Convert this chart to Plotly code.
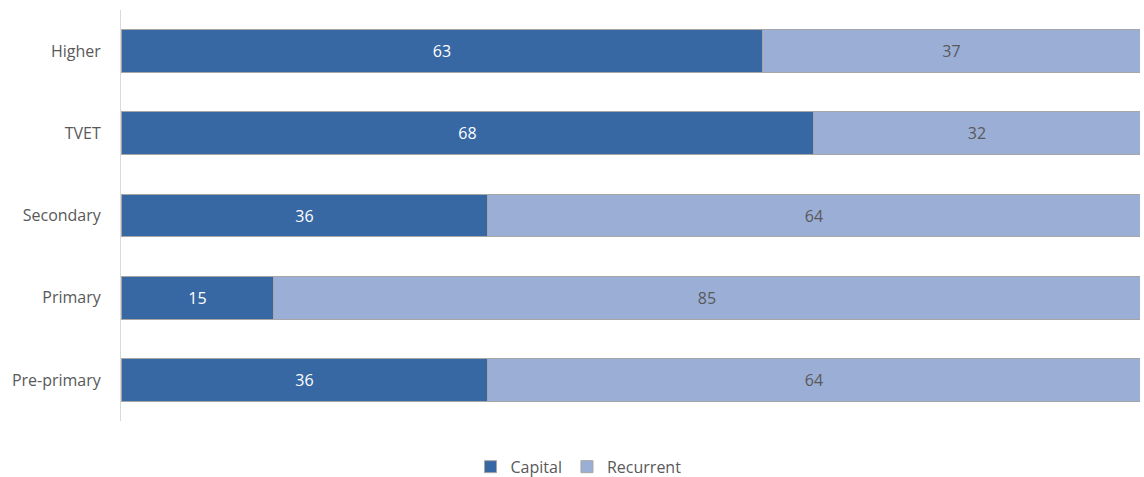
import plotly.graph_objects as go

categories = ["Pre-primary", "Primary", "Secondary", "TVET", "Higher"]
capital = [36, 15, 36, 68, 63]
recurrent = [64, 85, 64, 32, 37]

fig = go.Figure()
fig.add_trace(go.Bar(
    y=categories, x=capital, orientation="h", name="Capital",
    marker=dict(color="#3868A4", line=dict(color="#A6A6A6", width=1)),
    text=[str(v) for v in capital], textposition="inside", insidetextanchor="middle",
    textfont=dict(color="#FFFFFF", size=16, family="Open Sans"),
    width=0.52,
))
fig.add_trace(go.Bar(
    y=categories, x=recurrent, orientation="h", name="Recurrent",
    marker=dict(color="#9BAED6", line=dict(color="#A6A6A6", width=1)),
    text=[str(v) for v in recurrent], textposition="inside", insidetextanchor="middle",
    textfont=dict(color="#595959", size=16, family="Open Sans"),
    width=0.52,
))
fig.update_layout(
    barmode="stack",
    width=1144, height=477,
    margin=dict(l=121, r=4, t=10, b=56, autoexpand=False),
    plot_bgcolor="white", paper_bgcolor="white",
    font=dict(family="Open Sans", color="#595959", size=16),
    showlegend=True,
    legend=dict(orientation="h", x=0.449, xanchor="center", y=-0.07, yanchor="top",
                font=dict(size=16, color="#595959"), traceorder="normal",
                itemwidth=30),
    uniformtext=dict(mode="show", minsize=10),
)
fig.update_xaxes(range=[0, 100], showticklabels=False, showgrid=False, zeroline=False,
                 fixedrange=True, automargin=False)
fig.update_yaxes(showline=True, linecolor="#D9D9D9", linewidth=1, ticks="",
                 tickfont=dict(size=16, color="#595959"), ticklabelstandoff=16,
                 showgrid=False, automargin=False, fixedrange=True)
fig.write_html("out.html", config={"displayModeBar": False},
               post_script="document.body.style.margin='0';document.body.style.overflow='hidden';")
